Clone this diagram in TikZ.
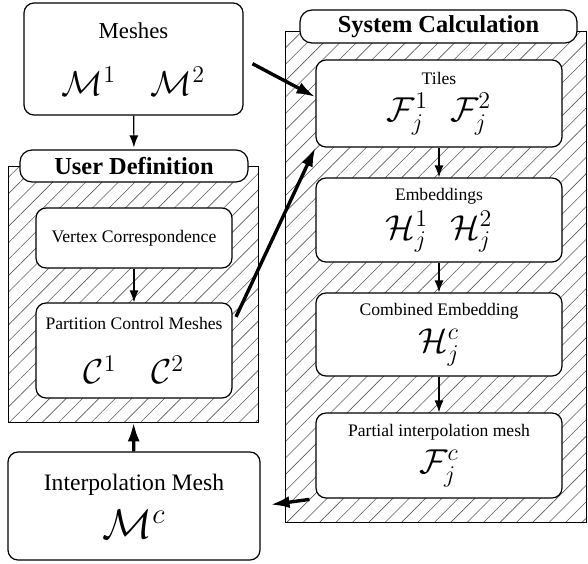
\documentclass[tikz,border=0pt]{standalone}
\usepackage{fontspec}
\setmainfont{Liberation Serif}
\usetikzlibrary{patterns.meta,arrows.meta}

\newcommand\bigmath[1]{{\fontsize{17.28}{18}\selectfont$#1$}}

\begin{document}
\begin{tikzpicture}[x=0.5pt,y=-0.5pt,
	box/.style={draw, rounded corners=5pt, fill=white, align=center, inner sep=0pt, line width=0.6pt},
	small/.style={font=\fontsize{8.8}{#1}\selectfont},
	title/.style={draw, rounded corners=6pt, fill=white, inner sep=0pt, line width=0.6pt,
		font=\fontsize{12.2}{13}\selectfont\bfseries},
	area/.style={draw, line width=0.4pt, inner sep=0pt, pattern color=black!65,
		pattern={Lines[angle=45,distance=5.8pt,line width=0.3pt]}},
	thinarrow/.style={-{Latex[length=6pt,width=4.5pt]}, line width=0.6pt},
	fatarrow/.style={-{Latex[length=9.5pt,width=6pt]}, line width=1.7pt}]

	\useasboundingbox (0,0) rectangle (588,563);

	% hatched areas
	\node[area, minimum width=125pt, minimum height=128pt] (userarea) at (133,294) {};
	\node[area, minimum width=150.5pt, minimum height=245.5pt] (sysarea) at (435.5,276.5) {};

	\node[title, minimum width=114pt, minimum height=16pt] (usertitle) at (134,166) {User Definition};
	\node[title, minimum width=138.5pt, minimum height=16.5pt] (systitle) at (438.5,26.5) {System Calculation};

	% left column
	\node[box, minimum width=109.5pt, minimum height=56pt, font=\fontsize{11.4}{28.5}\selectfont]
		(meshes) at (133.5,59) {Meshes\\\bigmath{\mathcal{M}^1\quad\mathcal{M}^2}};
	\node[box, small=10, minimum width=98pt, minimum height=30pt]
		(vertex) at (134,238) {Vertex Correspondence};
	\node[box, small=27, minimum width=98pt, minimum height=47.5pt]
		(partition) at (134,350.5) {Partition Control Meshes\\\bigmath{\mathcal{C}^1\quad\mathcal{C}^2}};
	\node[box, minimum width=126pt, minimum height=54pt, font=\fontsize{11.8}{24}\selectfont]
		(interp) at (134,506) {Interpolation Mesh\\{\fontsize{20.74}{21}\selectfont$\mathcal{M}^c$}};

	% right column
	\node[box, small=18.5, minimum width=123pt, minimum height=43.5pt]
		(tiles) at (439,103.5) {Tiles\\\bigmath{\mathcal{F}_j^1\hspace{11pt}\mathcal{F}_j^2}};
	\node[box, small=19.5, minimum width=123pt, minimum height=42pt]
		(embed) at (439,220) {Embeddings\\\bigmath{\mathcal{H}_j^1\hspace{11pt}\mathcal{H}_j^2}};
	\node[box, small=18.5, minimum width=123pt, minimum height=41.5pt]
		(combined) at (439,334.5) {Combined Embedding\\\bigmath{\mathcal{H}_j^c}};
	\node[box, small=18.5, minimum width=123pt, minimum height=42.5pt]
		(partial) at (439,455.5) {Partial interpolation mesh\\\bigmath{\mathcal{F}_j^c}};

	\draw[thinarrow, shorten >=1pt] (meshes) -- (usertitle);
	\draw[thinarrow] (vertex) -- (partition);
	\draw[thinarrow] (tiles) -- (embed);
	\draw[thinarrow] (embed) -- (combined);
	\draw[thinarrow] (combined) -- (partial);

	\draw[fatarrow] (interp) -- (userarea);
	\draw[fatarrow, shorten <=5pt] (meshes.east) -- (tiles.177);
	\draw[fatarrow, shorten <=4pt] (partition.15) -- (tiles.south west);
	\draw[fatarrow, shorten <=3pt, shorten >=5pt] (partial.south west) -- (interp.east);

\end{tikzpicture}
\end{document}
